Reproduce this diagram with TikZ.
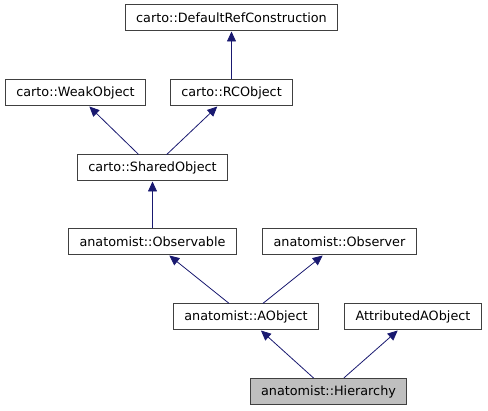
\documentclass[tikz,border=0pt]{standalone}
\usepackage{fontspec}
\setmainfont{DejaVu Sans}
\usetikzlibrary{arrows.meta}
\definecolor{edgeblue}{HTML}{191970}
\definecolor{boxline}{HTML}{404040}
\newcommand{\BoxHeight}{26pt}
\tikzset{Cls/.style={
    inner xsep=11pt,
    inner ysep=0pt,
    minimum height=\BoxHeight,
    draw=boxline,
    line width=1pt,
    fill=white,
    font=\fontsize{12.8}{15}\selectfont,
    }
}
\tikzset{Inh/.style={
    draw=edgeblue,
    line width=0.8pt,
    -{Triangle[length=10pt,width=9pt,fill=edgeblue]},
    }
}
\begin{document}
\begin{tikzpicture}[x=1pt, y=-1pt,
    Cur/.style={Cls, fill=black!25},
]
\useasboundingbox (0,0) rectangle (488,411);
% top rows
\node [Cls] (defref) at (231.5,18) {carto::DefaultRefConstruction};
\node [Cls] (weak) at (75.5,93) {carto::WeakObject};
\node [Cls] (rcobj) at (231.5,93) {carto::RCObject};
\node [Cls] (shared) at (152.5,168) {carto::SharedObject};
% anatomist
\node [Cls] (observable) at (152.5,242) {anatomist::Observable};
\node [Cls] (observer) at (339.5,242) {anatomist::Observer};
\node [Cls] (aobject) at (246,317) {anatomist::AObject};
\node [Cls] (attrib) at (413,317) {AttributedAObject};
\node [Cur] (hier) at (328.5,391.5) {anatomist::Hierarchy};
% inheritance
\draw [Inh] (rcobj) -- (defref);
\draw [Inh] (shared) -- (weak);
\draw [Inh] (shared) -- (rcobj);
\draw [Inh] (observable) -- (shared);
\draw [Inh] (aobject) -- (observable);
\draw [Inh] (aobject) -- (observer);
\draw [Inh] (hier) -- (aobject);
\draw [Inh] (hier) -- (attrib);
\end{tikzpicture}
\end{document}
